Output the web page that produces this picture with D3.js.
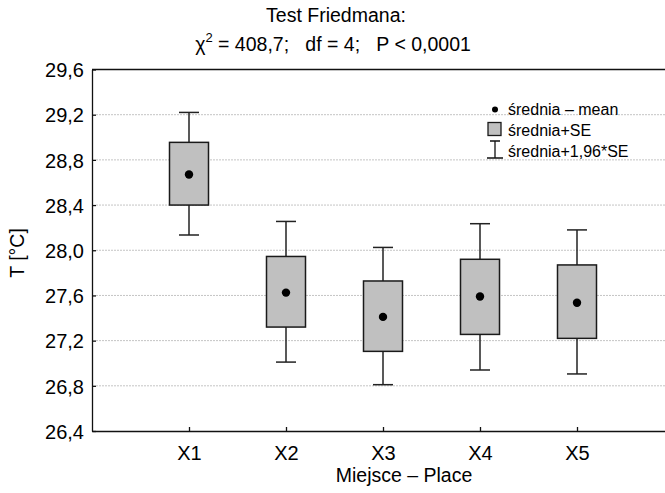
<!DOCTYPE html>
<html>
<head>
<meta charset="utf-8">
<script src="https://cdn.jsdelivr.net/npm/d3@7"></script>
<style>
  body { margin: 0; background: #fff; }
  text { font-family: Arial, "Liberation Sans", sans-serif; fill: #000; }
</style>
</head>
<body>
<script>
// values
const places = ["X1", "X2", "X3", "X4", "X5"];
const means = [28.67, 27.625, 27.41, 27.59, 27.535];
const seLow = [28.40, 27.32, 27.105, 27.255, 27.22];
const seHigh = [28.955, 27.945, 27.728, 27.92, 27.87];
const ciLow = [28.135, 27.01, 26.81, 26.94, 26.905];
const ciHigh = [29.22, 28.255, 28.025, 28.235, 28.18];
const yTicks = [26.4, 26.8, 27.2, 27.6, 28.0, 28.4, 28.8, 29.2, 29.6];

const width = 665, height = 493;
const plotL = 92, plotR = 674, plotT = 69.5, plotB = 431;

const svg = d3.select('body').append('svg')
  .attr('width', width)
  .attr('height', height);

const x = d3.scalePoint().domain(places).range([plotL, plotR]).padding(1);
const y = d3.scaleLinear().domain([26.4, 29.6]).range([plotB, plotT]);
const fmt = d => d3.format('.1f')(d).replace('.', ',');

// dotted grid
svg.selectAll('.grid').data(yTicks.slice(1, -1)).enter()
  .append('line')
  .attr('x1', plotL + 4).attr('x2', plotR)
  .attr('y1', d => y(d)).attr('y2', d => y(d))
  .attr('stroke', '#c4c4c4')
  .attr('stroke-dasharray', '2,1');

// axes
const yAxis = svg.append('g')
  .attr('transform', `translate(${plotL},0)`)
  .call(d3.axisLeft(y).tickValues(yTicks).tickFormat(fmt).tickSizeInner(-4).tickSizeOuter(0).tickPadding(8));
const xAxis = svg.append('g')
  .attr('transform', `translate(0,${plotB})`)
  .call(d3.axisBottom(x).tickSizeInner(-4).tickSizeOuter(0).tickPadding(15));
[yAxis, xAxis].forEach(g => {
  g.selectAll('text').style('font-size', '20px').attr('font-family', null);
  g.selectAll('line, path').attr('stroke', '#111').attr('stroke-width', 1.3);
});
yAxis.selectAll('text').attr('dy', '0.36em');

// top frame line
svg.append('line')
  .attr('x1', plotL).attr('x2', plotR)
  .attr('y1', plotT).attr('y2', plotT)
  .attr('stroke', '#111').attr('stroke-width', 1.5);

// whiskers
const capW = 20, boxW = 39;
const g = svg.selectAll('.place').data(places).enter().append('g').attr('class', 'place');
g.append('line')
  .attr('x1', d => x(d)).attr('x2', d => x(d))
  .attr('y1', (d, i) => y(ciLow[i])).attr('y2', (d, i) => y(ciHigh[i]))
  .attr('stroke', '#222').attr('stroke-width', 1.5);
[ciLow, ciHigh].forEach(arr => {
  g.append('line')
    .attr('x1', d => x(d) - capW / 2).attr('x2', d => x(d) + capW / 2)
    .attr('y1', (d, i) => y(arr[i])).attr('y2', (d, i) => y(arr[i]))
    .attr('stroke', '#222').attr('stroke-width', 1.5);
});
g.append('rect')
  .attr('x', d => x(d) - boxW / 2)
  .attr('width', boxW)
  .attr('y', (d, i) => y(seHigh[i]))
  .attr('height', (d, i) => y(seLow[i]) - y(seHigh[i]))
  .attr('fill', '#c0c0c0')
  .attr('stroke', '#1a1a1a').attr('stroke-width', 1.5);
g.append('circle')
  .attr('cx', d => x(d))
  .attr('cy', (d, i) => y(means[i]))
  .attr('r', 4.2)
  .attr('fill', '#000');

// title
svg.append('text')
  .attr('x', 336).attr('y', 22)
  .attr('text-anchor', 'middle')
  .style('font-size', '19.5px')
  .text('Test Friedmana:');
const t2 = svg.append('text')
  .attr('x', 333).attr('y', 51)
  .attr('text-anchor', 'middle')
  .attr('xml:space', 'preserve')
  .style('font-size', '19.5px');
t2.append('tspan').text('χ');
t2.append('tspan').attr('dy', -9).style('font-size', '13px').text('2');
t2.append('tspan').attr('dy', 9).text(' = 408,7;   df = 4;   P < 0,0001');

// axis titles
svg.append('text')
  .attr('x', 404).attr('y', 482)
  .attr('text-anchor', 'middle')
  .style('font-size', '19.5px')
  .text('Miejsce – Place');
svg.append('text')
  .attr('transform', 'translate(24,253) rotate(-90)')
  .attr('text-anchor', 'middle')
  .style('font-size', '19.5px')
  .text('T [°C]');

// legend
const leg = svg.append('g').style('font-size', '16px');
leg.append('circle').attr('cx', 495).attr('cy', 109.5).attr('r', 3).attr('fill', '#000');
leg.append('text').attr('x', 508).attr('y', 115).text('średnia – mean');
leg.append('rect').attr('x', 488).attr('y', 122.5).attr('width', 13).attr('height', 13)
  .attr('fill', '#c0c0c0').attr('stroke', '#1a1a1a').attr('stroke-width', 1.3);
leg.append('text').attr('x', 508).attr('y', 136).text('średnia+SE');
leg.append('path')
  .attr('d', 'M490,141H500M495,141V158M487,158H503')
  .attr('fill', 'none').attr('stroke', '#111').attr('stroke-width', 1.3);
leg.append('text').attr('x', 508).attr('y', 157).text('średnia+1,96*SE');
</script>
</body>
</html>
